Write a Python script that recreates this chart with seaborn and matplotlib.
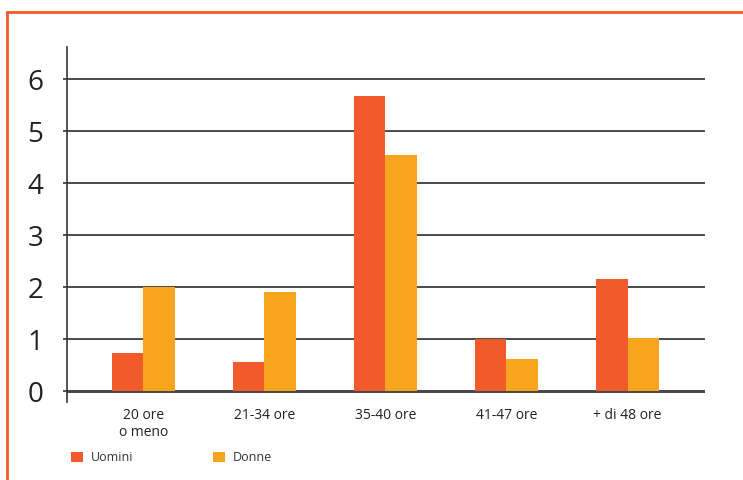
import matplotlib
matplotlib.use("Agg")
import matplotlib.pyplot as plt
from matplotlib.lines import Line2D
from matplotlib.patches import Patch
import seaborn as sns
import pandas as pd

categories = ["20 ore\no meno", "21-34 ore", "35-40 ore", "41-47 ore", "+ di 48 ore"]
uomini = [0.73, 0.56, 5.67, 1.0, 2.16]
donne = [2.0, 1.91, 4.54, 0.62, 1.03]
series = ["Uomini", "Donne"]
yticks = [0, 1, 2, 3, 4, 5, 6]
colors = {"Uomini": "#F15A2B", "Donne": "#F8A51E"}

df = pd.DataFrame({
    "cat": categories * 2,
    "val": uomini + donne,
    "serie": [series[0]] * len(categories) + [series[1]] * len(categories),
})

sns.set_theme(style="white")
plt.rcParams["font.family"] = ["Open Sans", "DejaVu Sans"]

fig = plt.figure(figsize=(7.43, 4.80), dpi=100)
ax = fig.add_axes([67/743, 1-402/480, (705-67)/743, (402-47)/480])

sns.barplot(data=df, x="cat", y="val", hue="serie", palette=colors,
            width=0.52, gap=0, saturation=1, ax=ax, legend=False,
            linewidth=0, order=categories, hue_order=series)

ax.set_xlim(-0.63, 4.64)
ax.set_ylim(-0.21, 6.62)
ax.set_yticks(yticks)
ax.set_yticklabels([str(t) for t in yticks], fontsize=20, color="#222222")
ax.yaxis.grid(True, color="#4a4a4a", linewidth=1.4, zorder=0)
ax.set_axisbelow(True)
ax.tick_params(axis="y", length=3, width=1.2, color="#333333", pad=14, left=True)
ax.tick_params(axis="x", length=0, pad=4, labelsize=10, labelcolor="#222222")
for s in ["top", "right", "bottom"]:
    ax.spines[s].set_visible(False)
ax.spines["left"].set_color("#333333")
ax.spines["left"].set_linewidth(1.2)
ax.set_xlabel("")
ax.set_ylabel("")
ax.axhline(0, color="#333333", linewidth=2.0, zorder=0.5)

handles = [Patch(facecolor=colors[s], edgecolor="none") for s in series]
fig.legend(handles, series, loc="upper left", bbox_to_anchor=(60/743, 1-440/480),
           ncol=2, frameon=False, fontsize=9, handlelength=0.95, handleheight=0.95,
           handletextpad=0.6, columnspacing=6.4, labelcolor="#333333")

border = "#F15A29"
fig.add_artist(Line2D([7/743, 1.0], [1-12/480, 1-12/480], transform=fig.transFigure,
                      color=border, linewidth=2.0))
fig.add_artist(Line2D([7/743, 7/743], [0, 1-12/480], transform=fig.transFigure,
                      color=border, linewidth=2.0))

fig.savefig("out.png", dpi=100)
